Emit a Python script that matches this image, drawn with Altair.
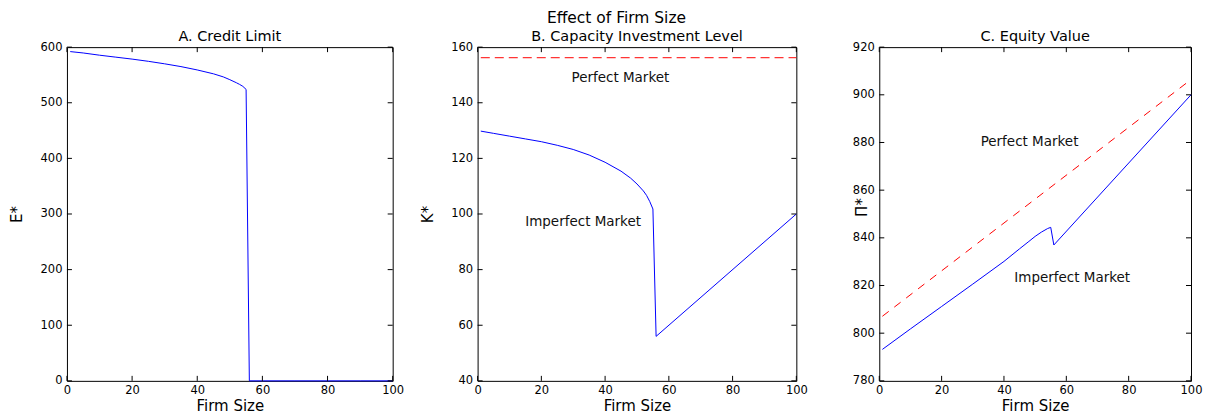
import altair as alt
import pandas as pd

FONT = "DejaVu Sans"
BLUE = "#0000ff"
RED = "#ff0000"
HEIGHT = 334

x_ticks = [0, 20, 40, 60, 80, 100]

# Panel A: Credit Limit
a_size = [1, 5, 10, 15, 20, 25, 30, 35, 40, 45, 48, 50, 52, 53, 54, 55, 56, 60, 70, 80, 90, 100]
a_credit = [592, 589.5, 585.5, 582, 578.5, 574.5, 570, 565, 559, 552, 546.5, 541.5, 536, 533,
            529.5, 524, 0, 0, 0, 0, 0, 0]
a_yticks = [0, 100, 200, 300, 400, 500, 600]

# Panel B: Capacity Investment Level
b_size = [1, 5, 10, 15, 20, 25, 30, 35, 40, 45, 48, 50, 52, 53, 54, 55, 56, 100]
b_imperfect = [129.8, 129.0, 128.0, 127.0, 126.0, 124.7, 123.2, 121.2, 118.6, 115.4, 112.9,
               110.8, 108.3, 106.7, 104.5, 101.8, 56, 100]
b_perfect_size = [1, 100]
b_perfect = [156.2, 156.2]
b_yticks = [40, 60, 80, 100, 120, 140, 160]

# Panel C: Equity Value
c_size = [1, 10, 20, 30, 40, 45, 48, 50, 52, 54, 55, 56, 100]
c_imperfect = [793.2, 801.8, 811.2, 820.6, 830.1, 835.4, 838.5, 840.6, 842.4, 843.9, 844.4, 837, 900]
c_perfect_size = [1, 100]
c_perfect = [807.1, 906.4]
c_yticks = [780, 800, 820, 840, 860, 880, 900, 920]

# Annotations
b_labels = ["Perfect Market", "Imperfect Market"]
b_label_x = [44.8, 33.1]
b_label_y = [148.8, 97.0]
c_labels = ["Perfect Market", "Imperfect Market"]
c_label_x = [48.2, 61.9]
c_label_y = [880.0, 823.3]


def panel(title, ytitle, ydomain, yticks, series, labels, width, title_x, min_extent,
          title_y=None):
    xscale = alt.Scale(domain=[0, 100], nice=False, zero=False)
    yscale = alt.Scale(domain=ydomain, nice=False, zero=False)
    common = dict(grid=False, ticks=False, tickSize=0, domain=False, labelFont=FONT,
                  titleFont=FONT, labelFontSize=11.5, titleFontSize=15,
                  titleFontWeight="normal", labelColor="black", titleColor="black",
                  labelOverlap=False)
    xaxis = alt.Axis(values=x_ticks, title="Firm Size", labelFlush=False, labelPadding=4,
                     titlePadding=2, format="d", **common)
    ykw = dict(values=yticks, title=ytitle, labelPadding=5, titleX=title_x,
               minExtent=min_extent, format="d")
    if title_y is not None:
        ykw["titleY"] = title_y
    yaxis = alt.Axis(**ykw, **common)

    def X(f):
        return alt.X(f"{f}:Q", scale=xscale, axis=xaxis)

    def Y(f):
        return alt.Y(f"{f}:Q", scale=yscale, axis=yaxis)

    layers = []
    for xs, ys, color, dash in series:
        df = pd.DataFrame({"x": xs, "y": ys})
        kw = dict(color=color, strokeWidth=1)
        if dash:
            kw["strokeDash"] = dash
        layers.append(alt.Chart(df).mark_line(**kw).encode(x=X("x"), y=Y("y")))

    xt = pd.DataFrame({"x": x_ticks})
    yt = pd.DataFrame({"y": yticks})
    layers.append(alt.Chart(xt).mark_rule(color="black", strokeWidth=1).encode(
        x=X("x"), y=alt.value(0), y2=alt.value(5)))
    layers.append(alt.Chart(xt).mark_rule(color="black", strokeWidth=1).encode(
        x=X("x"), y=alt.value(HEIGHT), y2=alt.value(HEIGHT - 5)))
    layers.append(alt.Chart(yt).mark_rule(color="black", strokeWidth=1).encode(
        y=Y("y"), x=alt.value(0), x2=alt.value(5)))
    layers.append(alt.Chart(yt).mark_rule(color="black", strokeWidth=1).encode(
        y=Y("y"), x=alt.value(width), x2=alt.value(width - 5)))

    if labels:
        txt, lx, ly = labels
        tdf = pd.DataFrame({"label": txt, "x": lx, "y": ly})
        layers.append(alt.Chart(tdf).mark_text(font=FONT, fontSize=13.5, color="#111111",
                                               align="center", baseline="middle").encode(
            x=X("x"), y=Y("y"), text="label:N"))

    return alt.layer(*layers).properties(
        width=width, height=HEIGHT,
        title=alt.TitleParams(title, font=FONT, fontSize=14.5, fontWeight="normal",
                              color="black", offset=-3, anchor="middle"))


pa = panel("A. Credit Limit", "E*", [0, 600], a_yticks,
           [(a_size, a_credit, BLUE, None)], None, 326, -42, 58)
pb = panel("B. Capacity Investment Level", "K*", [40, 160], b_yticks,
           [(b_perfect_size, b_perfect, RED, [9, 5]), (b_size, b_imperfect, BLUE, None)],
           (b_labels, b_label_x, b_label_y), 319, -42, 58)
pc = panel("C. Equity Value", "Π*", [780, 920], c_yticks,
           [(c_perfect_size, c_perfect, RED, [8, 7]), (c_size, c_imperfect, BLUE, None)],
           (c_labels, c_label_x, c_label_y), 312, -10, 56, 160)

chart = alt.hconcat(pa, pb, pc, spacing=14).properties(
    padding={"top": 3, "left": 0, "right": 0, "bottom": 0},
    title=alt.TitleParams("Effect of Firm Size", font=FONT, fontSize=15.5, fontWeight="normal",
                          color="black", anchor="middle", offset=1.5, dx=11),
).configure_view(stroke="black", strokeWidth=1)

chart.save("out.html", embed_options={"renderer": "svg", "actions": False})
